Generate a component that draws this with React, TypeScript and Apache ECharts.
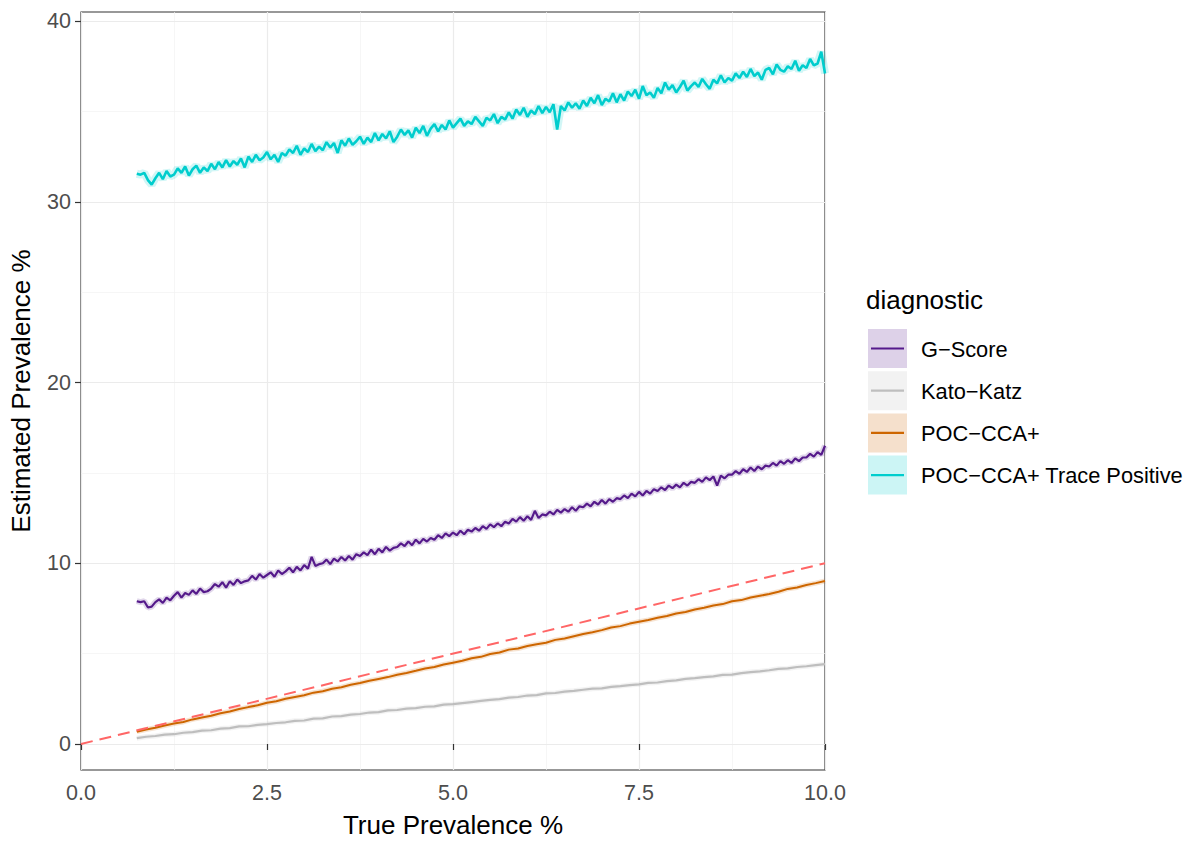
import { useEffect, useRef } from "react";
import * as echarts from "echarts";

// sampling of the simulated true-prevalence grid
const fineStart = 0.75;
const fineStep = 0.05;
const coarseStart = 0.75;
const coarseStep = 0.125;

// POC-CCA+ Trace Positive (fine grid)
const traceValues = [
  31.55, 31.5, 31.6, 31.2, 30.95, 31.3, 31.6, 31.25, 31.7, 31.4,
  31.5, 31.85, 31.6, 31.95, 31.45, 31.8, 32.0, 31.6, 31.9, 31.7,
  32.1, 31.8, 32.2, 31.9, 32.3, 31.95, 32.25, 32.05, 32.4, 31.9,
  32.5, 32.2, 32.6, 32.3, 32.45, 32.75, 32.35, 32.6, 32.2, 32.7,
  32.55, 32.9, 32.7, 33.1, 32.6, 32.95, 32.75, 33.2, 32.8, 33.05,
  32.85, 33.3, 33.0, 33.25, 32.7, 33.4, 33.1, 33.5, 33.15, 33.35,
  33.6, 33.2, 33.55, 33.3, 33.8, 33.4, 33.75, 33.5, 33.9, 33.3,
  33.6, 34.0, 33.7, 33.95, 33.55, 34.1, 33.8, 34.2, 33.65, 34.05,
  34.3, 33.9, 34.25, 34.0, 34.5, 34.1, 34.35, 34.6, 34.2, 34.45,
  34.3, 34.7, 34.45, 34.2, 34.65, 34.5, 34.85, 34.35, 34.7, 34.55,
  34.95, 34.6, 35.1, 34.8, 35.2, 34.7, 35.05, 34.85, 35.3, 34.9,
  35.25, 34.95, 35.4, 34.0, 35.3, 35.05, 35.5, 35.2, 35.45, 35.15,
  35.6, 35.3, 35.75, 35.45, 35.9, 35.35, 35.7, 35.55, 36.0, 35.5,
  35.95, 35.6, 36.1, 35.85, 36.2, 35.7, 36.4, 35.9, 36.05, 35.75,
  36.3, 36.0, 36.6, 36.2, 36.45, 36.05, 36.35, 36.7, 36.15, 36.4,
  36.6, 36.35, 36.8, 36.5, 36.25, 36.75, 36.55, 37.0, 36.6, 36.85,
  36.7, 37.1, 36.85, 37.2, 36.9, 37.35, 36.95, 37.15, 36.75, 37.3,
  37.4, 37.05, 37.6, 37.3, 37.2, 37.5, 37.35, 37.8, 37.25, 37.55,
  37.4, 37.9, 37.55, 37.65, 38.3, 37.1,
];

// G-Score (fine grid)
const gScoreValues = [
  7.9, 7.85, 7.9, 7.55, 7.6, 7.85, 8.0, 7.8, 8.1, 7.95,
  8.2, 8.4, 8.1, 8.35, 8.25, 8.5, 8.3, 8.6, 8.4, 8.45,
  8.6, 8.85, 8.7, 8.95, 8.65, 9.0, 8.8, 9.1, 8.9, 9.0,
  9.05, 9.3, 9.1, 9.4, 9.2, 9.35, 9.5, 9.25, 9.6, 9.4,
  9.55, 9.75, 9.5, 9.8, 9.6, 9.9, 9.7, 10.35, 9.85, 9.95,
  10.0, 10.2, 9.95, 10.25, 10.1, 10.35, 10.15, 10.4, 10.2, 10.5,
  10.4, 10.6, 10.45, 10.75, 10.5, 10.8, 10.6, 10.9, 10.7, 10.85,
  10.9, 11.1, 10.95, 11.2, 11.0, 11.3, 11.1, 11.35, 11.2, 11.4,
  11.3, 11.55, 11.4, 11.65, 11.5, 11.7, 11.55, 11.8, 11.6, 11.85,
  11.75, 11.95, 11.8, 12.05, 11.9, 12.15, 12.0, 12.2, 12.05, 12.3,
  12.2, 12.45, 12.3, 12.55, 12.35, 12.6, 12.4, 12.9, 12.5, 12.7,
  12.65, 12.85, 12.7, 12.95, 12.8, 13.0, 12.85, 13.1, 12.9, 13.15,
  13.1, 13.3, 13.15, 13.4, 13.25, 13.5, 13.3, 13.55, 13.4, 13.6,
  13.55, 13.75, 13.6, 13.85, 13.7, 13.95, 13.75, 14.0, 13.85, 14.1,
  14.0, 14.2, 14.05, 14.3, 14.15, 14.35, 14.2, 14.45, 14.3, 14.5,
  14.45, 14.65, 14.5, 14.75, 14.6, 14.8, 14.3, 14.85, 14.7, 14.9,
  14.9, 15.1, 14.95, 15.2, 15.05, 15.3, 15.1, 15.35, 15.2, 15.4,
  15.35, 15.55, 15.4, 15.65, 15.5, 15.7, 15.55, 15.8, 15.65, 15.85,
  15.85, 16.05, 15.9, 16.15, 16.0, 16.5,
];

// POC-CCA+ (coarse grid)
const pocValues = [
  0.68, 0.8, 0.9, 1.02, 1.13, 1.22, 1.36, 1.46, 1.56, 1.7,
  1.8, 1.93, 2.04, 2.14, 2.28, 2.36, 2.5, 2.6, 2.7, 2.84,
  2.92, 3.06, 3.14, 3.28, 3.37, 3.5, 3.6, 3.7, 3.83, 3.93,
  4.05, 4.18, 4.26, 4.4, 4.5, 4.6, 4.74, 4.82, 4.98, 5.06,
  5.22, 5.28, 5.42, 5.52, 5.6, 5.76, 5.84, 5.96, 6.08, 6.18,
  6.3, 6.44, 6.52, 6.66, 6.76, 6.86, 6.98, 7.08, 7.22, 7.3,
  7.44, 7.54, 7.66, 7.74, 7.9, 7.96, 8.1, 8.2, 8.3, 8.42,
  8.58, 8.66, 8.8, 8.9, 9.02,
];

// Kato-Katz (coarse grid)
const katoValues = [
  0.32, 0.4, 0.44, 0.52, 0.54, 0.62, 0.66, 0.74, 0.76, 0.85,
  0.88, 0.97, 0.98, 1.06, 1.1, 1.16, 1.2, 1.28, 1.3, 1.4,
  1.42, 1.52, 1.54, 1.62, 1.66, 1.74, 1.76, 1.86, 1.88, 1.96,
  1.98, 2.06, 2.08, 2.18, 2.2, 2.26, 2.32, 2.38, 2.44, 2.48,
  2.56, 2.6, 2.68, 2.7, 2.8, 2.82, 2.9, 2.94, 3.0, 3.06,
  3.08, 3.16, 3.2, 3.26, 3.3, 3.38, 3.4, 3.48, 3.52, 3.6,
  3.64, 3.7, 3.74, 3.82, 3.84, 3.92, 3.98, 4.02, 4.08, 4.16,
  4.18, 4.26, 4.3, 4.36, 4.42,
];

// identity reference line (estimated = true)
const identityLine = [
  [0, 0],
  [10, 10],
];

const xTicks = [0, 2.5, 5, 7.5, 10];
const yTicks = [0, 10, 20, 30, 40];
const yMinorTicks = [5, 15, 25, 35];

const diagnostics = [
  "G\u2212Score",
  "Kato\u2212Katz",
  "POC\u2212CCA+",
  "POC\u2212CCA+ Trace Positive",
];
const lineColors = ["#551A8B", "#BEBEBE", "#CD6600", "#00CDCD"];
const keyFills = ["#DDD1E8", "#F2F2F2", "#F5E0CC", "#CCF5F5"];

const FONT = "'Liberation Sans', Arial, Helvetica, sans-serif";
const TICK_SIZE = 21.5;
const LEGEND_SIZE = 21.8;
const TITLE_SIZE = 26;

function pairs(values: number[], start: number, step: number) {
  return values.map((v, i) => [+(start + i * step).toFixed(4), v]);
}

export default function App() {
  const ref = useRef<HTMLDivElement>(null);

  useEffect(() => {
    if (!ref.current) return;
    const chart = echarts.init(ref.current, undefined, { renderer: "svg" });

    const seriesData = [
      pairs(gScoreValues, fineStart, fineStep),
      pairs(katoValues, coarseStart, coarseStep),
      pairs(pocValues, coarseStart, coarseStep),
      pairs(traceValues, fineStart, fineStep),
    ];
    const haloWidths = [6, 5, 5, 8];
    const lineWidths = [2.2, 2.2, 2, 2.6];

    const series: any[] = [];
    // grid lines for y (major + minor)
    series.push({
      type: "line",
      data: [],
      silent: true,
      markLine: {
        silent: true,
        symbol: ["none", "none"],
        z: 0,
        label: { show: false },
        data: [
          ...yMinorTicks.map((v) => ({
            yAxis: v,
            lineStyle: { color: "#F2F2F2", width: 0.7, type: "solid" },
          })),
          ...yTicks.map((v) => ({
            yAxis: v,
            lineStyle: { color: "#EBEBEB", width: 1.2, type: "solid" },
          })),
        ],
      },
    });

    diagnostics.forEach((name, i) => {
      series.push({
        name: name + " band",
        type: "line",
        data: seriesData[i],
        showSymbol: false,
        symbol: "none",
        silent: true,
        z: 2,
        lineStyle: { color: lineColors[i], width: haloWidths[i], opacity: 0.18 },
      });
    });
    diagnostics.forEach((name, i) => {
      series.push({
        name,
        type: "line",
        data: seriesData[i],
        showSymbol: false,
        symbol: "none",
        z: 3,
        lineStyle: { color: lineColors[i], width: lineWidths[i] },
      });
    });
    series.push({
      name: "identity",
      type: "line",
      data: identityLine,
      showSymbol: false,
      symbol: "none",
      z: 4,
      lineStyle: { color: "#FF6666", width: 2, type: [12, 7] },
    });

    const graphic: any[] = [
      {
        type: "text",
        x: 866,
        y: 300,
        style: {
          text: "diagnostic",
          fontSize: TITLE_SIZE,
          fontFamily: FONT,
          fill: "#000000",
          verticalAlign: "middle",
        },
      },
    ];
    diagnostics.forEach((name, i) => {
      const top = 329 + i * 42.2;
      graphic.push({
        type: "rect",
        shape: { x: 868, y: top, width: 39, height: 39 },
        style: { fill: keyFills[i] },
      });
      graphic.push({
        type: "line",
        shape: { x1: 871, y1: top + 19.5, x2: 904, y2: top + 19.5 },
        style: { stroke: lineColors[i], lineWidth: 2.2 },
      });
      graphic.push({
        type: "text",
        x: 921,
        y: top + 20,
        style: {
          text: name,
          fontSize: LEGEND_SIZE,
          fontFamily: FONT,
          fill: "#000000",
          verticalAlign: "middle",
        },
      });
    });

    chart.setOption({
      animation: false,
      backgroundColor: "#FFFFFF",
      textStyle: { fontFamily: FONT },
      grid: {
        left: 81,
        right: 368,
        top: 12,
        bottom: 76,
        show: true,
        borderColor: "#333333",
        borderWidth: 1.2,
        backgroundColor: "transparent",
      },
      xAxis: {
        type: "value",
        min: 0,
        max: 10,
        interval: 2.5,
        name: "True Prevalence %",
        nameLocation: "middle",
        nameGap: 42,
        nameTextStyle: { fontSize: TITLE_SIZE, color: "#000000", fontFamily: FONT },
        axisLine: { show: false },
        axisTick: { show: true, length: 6, lineStyle: { color: "#333333", width: 1.2 } },
        axisLabel: {
          fontSize: TICK_SIZE,
          color: "#4D4D4D",
          margin: 12,
          fontFamily: FONT,
          formatter: (v: number) => (xTicks.includes(v) ? v.toFixed(1) : ""),
        },
        splitLine: { show: true, lineStyle: { color: "#EBEBEB", width: 1.2 } },
        minorTick: { show: false, splitNumber: 2 },
        minorSplitLine: { show: true, lineStyle: { color: "#F2F2F2", width: 0.7 } },
      },
      yAxis: {
        type: "value",
        min: -1.44,
        max: 40.5,
        name: "Estimated Prevalence %",
        nameLocation: "middle",
        nameGap: 47,
        nameTextStyle: { fontSize: TITLE_SIZE, color: "#000000", fontFamily: FONT },
        axisLine: { show: false },
        axisTick: {
          show: true,
          length: 6,
          customValues: yTicks,
          lineStyle: { color: "#333333", width: 1.2 },
        },
        axisLabel: {
          fontSize: TICK_SIZE,
          color: "#4D4D4D",
          margin: 10,
          fontFamily: FONT,
          customValues: yTicks,
          formatter: (v: number) => (yTicks.includes(v) ? String(v) : ""),
        },
        splitLine: { show: false },
      },
      series,
      graphic,
    });

    return () => chart.dispose();
  }, []);

  return (
    <div
      ref={ref}
      style={{ position: "fixed", left: 0, top: 0, width: 1193, height: 846 }}
    />
  );
}
